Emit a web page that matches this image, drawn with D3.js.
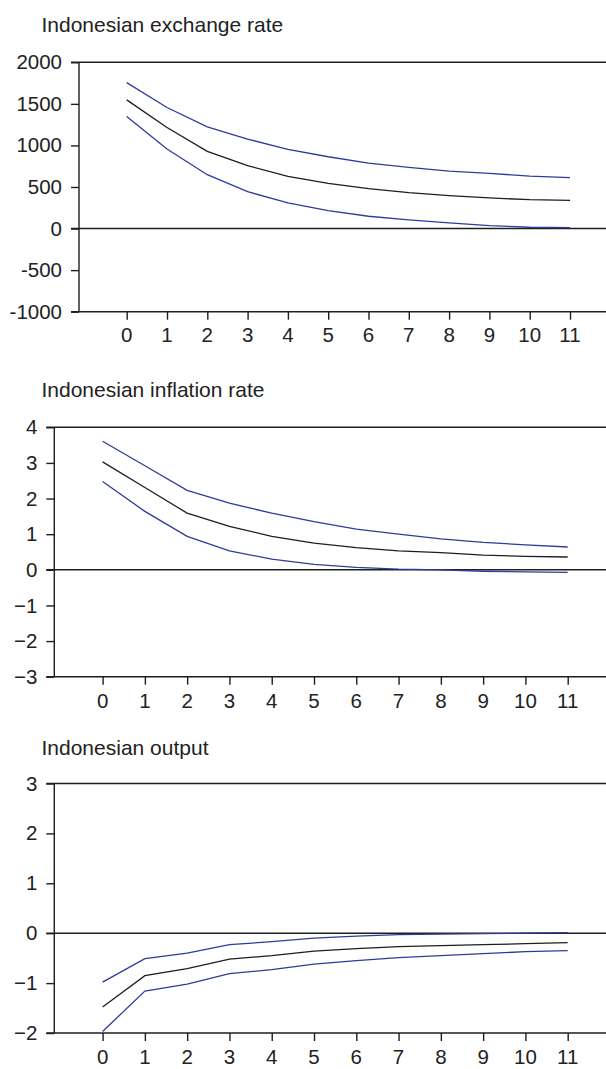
<!DOCTYPE html>
<html>
<head>
<meta charset="utf-8">
<script src="https://cdn.jsdelivr.net/npm/d3@7"></script>
<style>
  body { margin: 0; background: #fff; }
  svg text { font-family: "Liberation Sans", Arial, sans-serif; fill: #222; }
</style>
</head>
<body>
<svg id="chart" width="606" height="1069"></svg>
<script>
// horizon (periods after the shock)
var periods = [0, 1, 2, 3, 4, 5, 6, 7, 8, 9, 10, 11];

// exchange rate response
var exUpper = [1756, 1456, 1224, 1076, 952, 864, 788, 736, 692, 664, 632, 612];
var exMid   = [1548, 1216, 928, 756, 628, 544, 480, 432, 396, 368, 348, 340];
var exLower = [1348, 956, 648, 444, 308, 216, 148, 104, 68, 36, 16, 12];
var exTicks = [-1000, -500, 0, 500, 1000, 1500, 2000];

// inflation response
var infUpper = [3.61, 2.92, 2.23, 1.87, 1.59, 1.35, 1.14, 1.00, 0.87, 0.77, 0.70, 0.64];
var infMid   = [3.03, 2.31, 1.59, 1.22, 0.94, 0.75, 0.62, 0.53, 0.48, 0.41, 0.38, 0.36];
var infLower = [2.48, 1.64, 0.94, 0.53, 0.30, 0.15, 0.07, 0.02, 0.0, -0.04, -0.06, -0.07];
var infTicks = [-3, -2, -1, 0, 1, 2, 3, 4];

// output response
var outUpper = [-0.98, -0.51, -0.40, -0.23, -0.17, -0.10, -0.06, -0.03, -0.02, -0.01, 0.0, 0.01];
var outMid   = [-1.48, -0.85, -0.71, -0.52, -0.45, -0.36, -0.31, -0.27, -0.25, -0.23, -0.21, -0.19];
var outLower = [-1.97, -1.16, -1.02, -0.81, -0.73, -0.62, -0.55, -0.49, -0.45, -0.41, -0.37, -0.35];
var outTicks = [-2, -1, 0, 1, 2, 3];

const blue = '#2f3b9c';
const dark = '#1e1e1e';
const W = 606;

var svg = d3.select('#chart');

var panels = [
  { title: 'Indonesian exchange rate', titleY: 31.5, axisX: 79, x0: 126.7, x11: 570,
    top: 62.3, bottom: 311.7, ticks: exTicks, fmt: d => String(d), labelY: 342,
    upper: exUpper, mid: exMid, lower: exLower },
  { title: 'Indonesian inflation rate', titleY: 396.5, axisX: 54.3, x0: 102.6, x11: 567.7,
    top: 427.3, bottom: 676.7, ticks: infTicks, fmt: d => d < 0 ? '\u2212' + (-d) : String(d), labelY: 707.5,
    upper: infUpper, mid: infMid, lower: infLower },
  { title: 'Indonesian output', titleY: 755, axisX: 54.3, x0: 102.6, x11: 567.7,
    top: 783.5, bottom: 1033, ticks: outTicks, fmt: d => d < 0 ? '\u2212' + (-d) : String(d), labelY: 1064,
    upper: outUpper, mid: outMid, lower: outLower }
];

panels.forEach(drawPanel);

function drawPanel(p) {
  var g = svg.append('g');
  var ext = d3.extent(p.ticks);

  var x = d3.scaleLinear().domain([0, 11]).range([p.x0, p.x11]);
  var y = d3.scaleLinear().domain(ext).range([p.bottom, p.top]);

  g.append('text')
    .attr('x', 41.5)
    .attr('y', p.titleY)
    .style('font-size', '21px')
    .text(p.title);

  // y axis with ticks
  var yAxis = d3.axisLeft(y)
    .tickValues(p.ticks)
    .tickSize(8)
    .tickPadding(9)
    .tickFormat(p.fmt);

  var ya = g.append('g')
    .attr('transform', 'translate(' + p.axisX + ',0)')
    .call(yAxis);
  ya.select('.domain').remove();
  ya.selectAll('line').attr('stroke', dark).attr('stroke-width', 1.4);
  ya.selectAll('text').style('font-size', '20.5px').attr('fill', '#222');

  // vertical axis line
  g.append('line')
    .attr('x1', p.axisX).attr('x2', p.axisX)
    .attr('y1', y(ext[1])).attr('y2', y(ext[0]))
    .attr('stroke', dark).attr('stroke-width', 1.4);

  // top border, zero line and bottom line run to the right edge
  [ext[1], 0, ext[0]].forEach(function(v) {
    g.append('line')
      .attr('x1', p.axisX - 8).attr('x2', W)
      .attr('y1', y(v)).attr('y2', y(v))
      .attr('stroke', dark).attr('stroke-width', 1.4);
  });

  // x axis ticks pointing down
  var xAxis = d3.axisBottom(x)
    .tickValues(periods)
    .tickSize(8)
    .tickFormat('');
  var xa = g.append('g')
    .attr('transform', 'translate(0,' + p.bottom + ')')
    .call(xAxis);
  xa.select('.domain').remove();
  xa.selectAll('line').attr('stroke', dark).attr('stroke-width', 1.4);

  g.selectAll('.xlab')
    .data(periods)
    .join('text')
    .attr('x', d => x(d))
    .attr('y', p.labelY)
    .attr('text-anchor', 'middle')
    .style('font-size', '20.5px')
    .text(d => d);

  var line = d3.line()
    .x((d, i) => x(periods[i]))
    .y(d => y(d));

  [[p.upper, blue], [p.lower, blue], [p.mid, dark]].forEach(function(s) {
    g.append('path')
      .datum(s[0])
      .attr('fill', 'none')
      .attr('stroke', s[1])
      .attr('stroke-width', 1.3)
      .attr('d', line);
  });
}
</script>
</body>
</html>
